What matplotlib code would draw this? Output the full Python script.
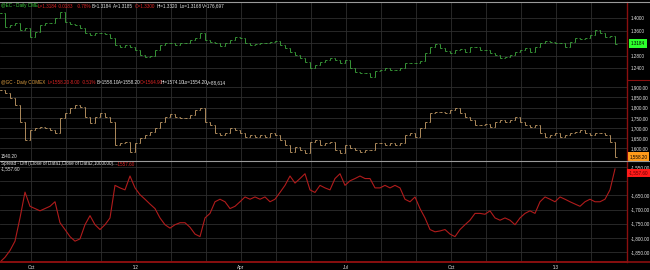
import numpy as np
import matplotlib
matplotlib.use('Agg')
import matplotlib.pyplot as plt
from matplotlib.lines import Line2D

plt.rcParams['font.family'] = ['Liberation Sans', 'DejaVu Sans']

# closes, one value about every 3 trading days (Sep 2011 - Feb 2013)
ec_close = [1.4160, 1.3731, 1.3786, 1.3840, 1.3626, 1.3680, 1.3411, 1.3571, 1.3786, 1.3859,
            1.3840, 1.4000, 1.4211, 1.3891, 1.3818, 1.3786, 1.3680, 1.3520, 1.3466, 1.3520,
            1.3520, 1.3498, 1.3360, 1.3146, 1.3091, 1.3146, 1.3091, 1.2986, 1.2826, 1.2771,
            1.2794, 1.2986, 1.3146, 1.3219, 1.3200, 1.3146, 1.3219, 1.3200, 1.3306, 1.3360,
            1.3520, 1.3306, 1.3251, 1.3200, 1.3114, 1.3200, 1.3306, 1.3392, 1.3360, 1.3200,
            1.3146, 1.3178, 1.3200, 1.3219, 1.3251, 1.3283, 1.3146, 1.3040, 1.2931, 1.2826,
            1.2720, 1.2611, 1.2400, 1.2506, 1.2611, 1.2666, 1.2720, 1.2666, 1.2560, 1.2666,
            1.2400, 1.2291, 1.2259, 1.2240, 1.2131, 1.2323, 1.2346, 1.2400, 1.2346, 1.2346,
            1.2400, 1.2560, 1.2579, 1.2560, 1.2634, 1.2880, 1.3091, 1.3178, 1.3040, 1.2963,
            1.2899, 1.2986, 1.3008, 1.2931, 1.3091, 1.3091, 1.2986, 1.2986, 1.2880, 1.2826,
            1.2720, 1.2771, 1.2826, 1.2931, 1.2986, 1.3040, 1.2931, 1.3091, 1.3200, 1.3283,
            1.3251, 1.3200, 1.3200, 1.3072, 1.3251, 1.3360, 1.3328, 1.3360, 1.3466, 1.3626,
            1.3520, 1.3411, 1.3434, 1.3184]

gc_close = [1887, 1870, 1846, 1813, 1731, 1640, 1690, 1698, 1706, 1698,
            1690, 1674, 1748, 1772, 1797, 1813, 1805, 1755, 1723, 1755,
            1772, 1755, 1731, 1616, 1625, 1632, 1583, 1625, 1649, 1665,
            1682, 1698, 1731, 1755, 1767, 1755, 1748, 1748, 1764, 1788,
            1797, 1731, 1715, 1674, 1665, 1674, 1698, 1690, 1674, 1657,
            1665, 1657, 1665, 1657, 1674, 1665, 1641, 1616, 1583, 1608,
            1592, 1575, 1632, 1641, 1616, 1625, 1632, 1592, 1575, 1616,
            1600, 1592, 1583, 1592, 1592, 1625, 1625, 1616, 1625, 1616,
            1625, 1665, 1674, 1657, 1698, 1731, 1772, 1780, 1777, 1772,
            1788, 1797, 1772, 1755, 1739, 1715, 1715, 1718, 1706, 1731,
            1739, 1731, 1739, 1755, 1731, 1715, 1706, 1715, 1674, 1657,
            1665, 1674, 1657, 1665, 1674, 1682, 1690, 1674, 1665, 1674,
            1674, 1665, 1632, 1558.2]

month_labels = ['Oct', "'12", 'Apr', 'Jul', 'Oct', "'13"]
ec_ticks = [1.24, 1.28, 1.32, 1.36, 1.40]
gc_ticks = [1600, 1650, 1700, 1750, 1800, 1850, 1900]
sp_ticks = [-1850, -1800, -1750, -1700, -1650, -1600, -1550]

ec = np.array(ec_close)
gc = np.array(gc_close)
spread = ec - gc          # Diff(Close of Data1, Close of Data2)
x = np.arange(len(ec))

W, H = 650, 270
FS = 3.3
GRID = '#2e2e2e'
RED = '#8a0f0f'
WHITE = '#e6e6e6'

fig = plt.figure(figsize=(6.5, 2.7), dpi=100, facecolor='black')

month_pos = np.arange(6.2, 125, 7.0)


def panel(top, bottom, ylim, ticks, labels):
    ax = fig.add_axes([0, 1 - bottom / H, 627 / W, (bottom - top) / H])
    ax.set_facecolor('black')
    for s in ax.spines.values():
        s.set_visible(False)
    ax.spines['right'].set_visible(True)
    ax.spines['right'].set_color(RED)
    ax.spines['right'].set_linewidth(1.0)
    ax.set_xlim(0, 125.4)
    ax.set_ylim(*ylim)
    for m in month_pos:
        ax.axvline(m, color=GRID, lw=0.6, zorder=0)
    for t in ticks:
        ax.axhline(t, color=GRID, lw=0.6, zorder=0)
    ax.yaxis.tick_right()
    ax.set_yticks(ticks, labels)
    ax.tick_params(axis='y', length=0, pad=3, labelsize=FS, labelcolor=WHITE)
    ax.set_xticks([])
    return ax


def bars(ax, c, color):
    prev = np.r_[c[0], c[:-1]]
    ax.vlines(x, np.minimum(prev, c), np.maximum(prev, c), color=color, lw=0.6)
    ax.hlines(prev, x - 0.3, x, color=color, lw=0.6)
    ax.hlines(c, x, x + 0.3, color=color, lw=0.6)


ax1 = panel(2, 80, (1.2026, 1.4522), ec_ticks,
            ['%.4f' % t if t != 1.32 else '' for t in ec_ticks])
ax2 = panel(80, 160, (1542.5, 1935.9), gc_ticks, ['{:,.2f}'.format(t) for t in gc_ticks])
ax3 = panel(160, 262, (-1885.2, -1525.3), sp_ticks,
            ['{:,.2f}'.format(t) if t != -1600 else '' for t in sp_ticks])

bars(ax1, ec, '#3fae3f')
bars(ax2, gc, '#c9a16a')
ax3.plot(x, spread, color='#b01c1c', lw=0.8)

ax3.spines['bottom'].set_visible(True)
ax3.spines['bottom'].set_color(RED)
ax3.spines['bottom'].set_linewidth(1.2)
ax3.set_xticks(month_pos[::3], month_labels)
ax3.tick_params(axis='x', length=0, pad=2, labelsize=FS, labelcolor=WHITE)

# last value boxes
box = dict(boxstyle='square,pad=0.4', ec='none')
ax1.text(1.006, ec[-1], '%.4f' % ec[-1], transform=ax1.get_yaxis_transform(),
         fontsize=FS, va='center', color='black', bbox=dict(box, fc='#2cff2c'))
ax2.text(1.004, gc[-1], '{:,.2f}'.format(gc[-1]), transform=ax2.get_yaxis_transform(),
         fontsize=FS, va='center', color='black', bbox=dict(box, fc='#ff9a1a'))
ax3.annotate('-1,557.60', xy=(1.003, -1557.6), xycoords=ax3.get_yaxis_transform(),
             xytext=(0, -4), textcoords='offset pixels', fontsize=FS, va='center',
             color='#600000', bbox=dict(box, fc='#ff1a1a'), annotation_clip=False)

# panel separators
fig.add_artist(Line2D([0, 1], [1 - 2 / H] * 2, color='#9a9a9a', lw=0.8))
fig.add_artist(Line2D([0, 1], [1 - 160.5 / H] * 2, color='#9a9a9a', lw=0.8))
fig.add_artist(Line2D([627 / W, 1], [1 - 80 / H] * 2, color=RED, lw=0.8))
fig.add_artist(Line2D([0, 1], [1 - 262 / H] * 2, color=RED, lw=1.2))


def header(y, parts):
    for px, s, c in parts:
        fig.text(px / W, 1 - y / H, s, color=c, fontsize=FS, va='center', ha='left')


G, R, O = '#3fd23f', '#e02424', '#e0a040'
header(6, [(1, '@EC - Daily CME', G), (38, 'L=1.3184', R), (58, '-0.0183', R),
           (77, '-0.78%', R), (92, 'B=1.3184', WHITE), (113, 'A=1.3185', WHITE),
           (135, 'O=1.3300', R), (157, 'Hi=1.3320', WHITE), (180, 'Lo=1.3168', WHITE),
           (202, 'V=176,697', WHITE)])
header(83, [(1, '@GC - Daily COMEX', O), (48, 'L=1558.20', R), (70, '-8.00', R),
            (82, '-0.51%', R), (97, 'B=1558.10', WHITE), (118, 'A=1558.20', WHITE),
            (140, 'O=1564.90', R), (161, 'Hi=1574.10', WHITE), (183, 'Lo=1554.20', WHITE),
            (206, 'V=88,614', WHITE)])
header(157, [(1, '1540.20', WHITE)])
header(164, [(1, 'Spread - Diff (Close of Data1,Close of Data2,1000000)...', WHITE),
             (117, '-1557.60', R)])
header(169, [(1, '-1,557.60', WHITE)])

fig.savefig('out.png', dpi=100, facecolor='black')
